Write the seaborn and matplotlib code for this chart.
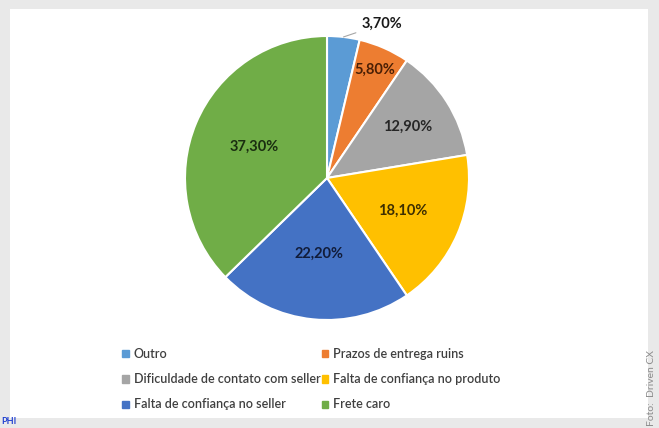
import numpy as np
import matplotlib
matplotlib.use("Agg")
import matplotlib.pyplot as plt
import matplotlib.patches as mpatches
import seaborn as sns

# Data
categories = ["Outro", "Prazos de entrega ruins", "Dificuldade de contato com seller",
              "Falta de confiança no produto", "Falta de confiança no seller", "Frete caro"]
values = [3.7, 5.8, 12.9, 18.1, 22.2, 37.3]
pct_labels = ["3,70%", "5,80%", "12,90%", "18,10%", "22,20%", "37,30%"]

colors = sns.color_palette(["#5B9BD5", "#ED7D31", "#A5A5A5", "#FFC000", "#4472C4", "#70AD47"])
label_colors = ["#000000", "#4A1F05", "#262626", "#3D2E00", "#111C3A", "#1A2E10"]
label_radius = [None, 0.83, 0.67, 0.58, 0.54, 0.56]

sns.set_theme(style="white")
plt.rcParams['font.family'] = ['Lato', 'DejaVu Sans']

W, H = 659, 428
fig = plt.figure(figsize=(W / 100, H / 100), dpi=100)
fig.patch.set_facecolor("#E9E9E9")

# white chart area
bg = mpatches.Rectangle((10 / W, 10 / H), 638 / W, 409 / H,
                        transform=fig.transFigure, facecolor="white",
                        edgecolor="none", zorder=-5)
fig.add_artist(bg)

cx, cy, r = 327, 178, 142
ax = fig.add_axes([(cx - r) / W, (H - cy - r) / H, 2 * r / W, 2 * r / H])
ax.set_zorder(2)
ax.patch.set_alpha(0)
wedges, _ = ax.pie(values, colors=colors, startangle=90, counterclock=False,
                   wedgeprops=dict(edgecolor="white", linewidth=1.5))
ax.set_xlim(-1, 1)
ax.set_ylim(-1, 1)
ax.set_aspect("equal")
ax.axis("off")

for w, lab, col, rad in zip(wedges, pct_labels, label_colors, label_radius):
    ang = np.deg2rad((w.theta1 + w.theta2) / 2)
    if rad is None:
        # outside label with leader line
        x0, y0 = np.cos(ang), np.sin(ang)
        ax.annotate(lab, xy=(x0, y0), xytext=(0.245, 1.085),
                    fontsize=10.5, fontweight="bold", color="#1A1A1A",
                    va="center", ha="left",
                    arrowprops=dict(arrowstyle="-", color="#A6A6A6", lw=0.8,
                                    shrinkA=2, shrinkB=0),
                    annotation_clip=False)
    else:
        ax.text(rad * np.cos(ang), rad * np.sin(ang), lab, ha="center", va="center",
                fontsize=10.5, fontweight="bold", color=col)

order = [0, 2, 4, 1, 3, 5]
handles = [mpatches.Patch(color=colors[i]) for i in order]
labels = [categories[i] for i in order]
leg = fig.legend(handles, labels, ncol=2, loc="upper left",
                 bbox_to_anchor=(111 / W, 1 - 337 / H), frameon=False,
                 fontsize=9, handlelength=0.5, handleheight=0.5,
                 handletextpad=0.4, columnspacing=0.15, labelspacing=1.05)
for t in leg.get_texts():
    t.set_color("#3F3F3F")
    t.set_fontweight("semibold")

fig.text(652 / W, 1 - 388 / H, "Foto:  Driven CX", rotation=90, fontsize=7.5,
         color="#8C8C8C", ha="center", va="center")
fig.text(1 / W, 1 - 422 / H, "PHI", fontsize=6.5, color="#1F3FD0",
         fontweight="bold", ha="left", va="center")

fig.savefig("out.png", dpi=100, facecolor=fig.get_facecolor())
